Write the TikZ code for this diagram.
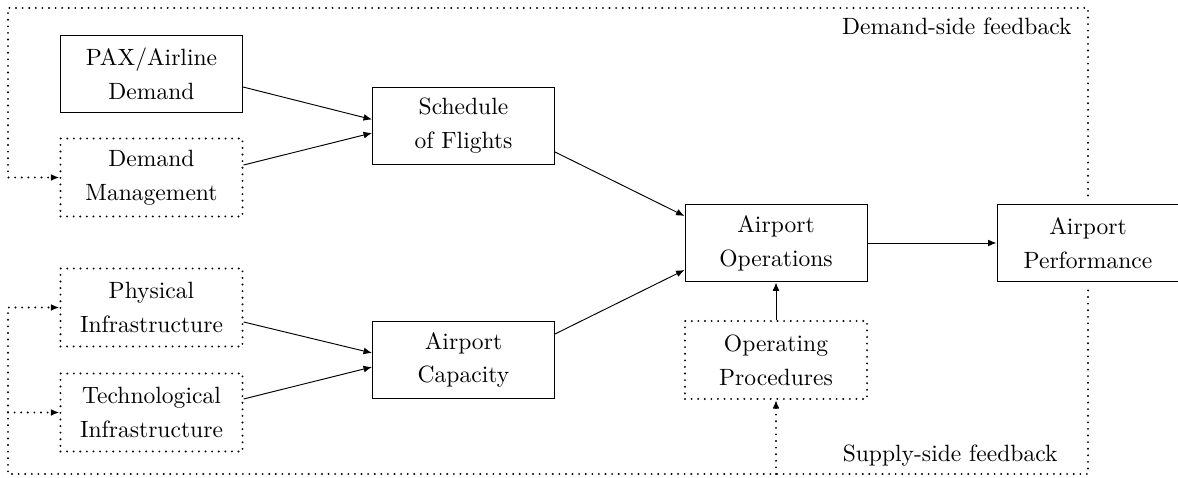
\documentclass[tikz,border=0pt]{standalone}
\usetikzlibrary{
    arrows.meta,
    positioning,
    calc
}
\tikzset{
    % Solid block
    blockbox/.style={
        rectangle,
        draw,
        minimum width=77.3pt,
        minimum height=33.1pt,
        align=center,
        inner sep=2pt,
        font=\linespread{1.2}\selectfont
    },
    % Round dots
    dotline/.style={
        dash pattern=on 0pt off 2.8pt,
        line cap=round,
        line width=0.9pt
    },
    % Dotted block
    optbox/.style={
        blockbox,
        dotline
    },
    % Arrow styles
    flowarrow/.style={
        -{Latex[length=3.6pt,width=2.9pt]}
    },
    feedarrow/.style={
        flowarrow,
        dotline
    }
}

\begin{document}
\begin{tikzpicture}[x=0.4246pt, y=-0.4246pt]

    \useasboundingbox (0,0) rectangle (1178,478);

    % Inputs on the left
    \node[blockbox] (pax) at (151.5,74) {PAX/Airline\\Demand};
    \node[optbox] (dmgmt) at (151.5,177.5) {Demand\\Management};
    \node[optbox] (phys) at (151.5,307.5) {Physical\\Infrastructure};
    \node[optbox] (tech) at (151.5,412.5) {Technological\\Infrastructure};

    % Middle column
    \node[blockbox] (sched) at (463.5,126) {Schedule\\of Flights};
    \node[blockbox] (cap) at (463.5,360) {Airport\\Capacity};

    % Operations
    \node[blockbox] (ops) at (776,243) {Airport\\Operations};
    \node[optbox] (proc) at (776,360) {Operating\\Procedures};

    % Output
    \node[blockbox] (perf) at (1088,243) {Airport\\Performance};

    % Feedback corners
    \coordinate (tl) at (8,8);
    \coordinate (bl) at (8,474);

    % Feedback labels
    \node[anchor=base east, inner sep=0pt] (dlabel) at (1072,35) {Demand-side feedback};
    \node[anchor=base east, inner sep=0pt] (slabel) at (1058,462) {Supply-side feedback};

    % Arrows
    \draw[flowarrow] ($(pax.east)+(0,13)$) -- ($(sched.west)+(0,-6.5)$);
    \draw[flowarrow] ($(dmgmt.east)+(0,-12.5)$) -- ($(sched.west)+(0,7)$);
    \draw[flowarrow] ($(phys.east)+(0,14.5)$) -- ($(cap.west)+(0,-7)$);
    \draw[flowarrow] ($(tech.east)+(0,-13.5)$) -- ($(cap.west)+(0,7)$);
    \draw[flowarrow] ($(sched.east)+(0,26)$) -- ($(ops.west)+(0,-27)$);
    \draw[flowarrow] ($(cap.east)+(0,-26)$) -- ($(ops.west)+(0,27)$);
    \draw[flowarrow] (ops) -- (perf);
    \draw[flowarrow] (proc) -- (ops);

    % Demand-side feedback loop
    \draw[feedarrow, shorten <=3.4pt] (perf.north) |- (tl) |- (dmgmt.west);

    % Supply-side feedback loop
    \draw[feedarrow, shorten <=3.4pt] (perf.south) |- (bl) |- (phys.west);
    \draw[feedarrow] (bl |- tech.west) -- (tech.west);
    \draw[feedarrow] (proc.south |- bl) -- (proc.south);

\end{tikzpicture}
\end{document}
